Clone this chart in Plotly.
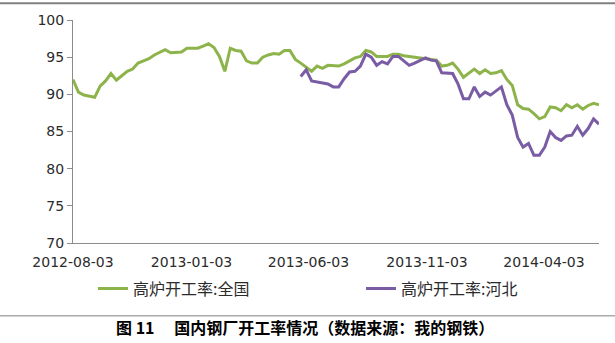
import pandas as pd
import plotly.graph_objects as go

# ---- data ----
start_national = "2012-08-03"
national = [92.0, 90.3, 89.9, 89.8, 89.6, 91.1, 91.8, 92.8, 91.9, 92.5,
            93.1, 93.4, 94.2, 94.5, 94.8, 95.3, 95.7, 96.0, 95.6, 95.7,
            95.7, 96.2, 96.2, 96.2, 96.5, 96.8, 96.3, 95.1, 93.1, 96.2,
            95.9, 95.8, 94.5, 94.2, 94.2, 95.0, 95.3, 95.5, 95.4, 95.9,
            95.9, 94.7, 94.2, 93.7, 93.1, 93.8, 93.5, 93.9, 93.8, 93.8,
            94.1, 94.5, 94.9, 95.1, 95.9, 95.7, 95.1, 95.1, 95.1, 95.4,
            95.4, 95.2, 95.1, 95.0, 94.9, 94.8, 94.7, 94.6, 93.8, 93.9,
            94.2, 93.4, 92.3, 92.8, 93.4, 92.8, 93.3, 92.8, 92.9, 93.2,
            92.0, 91.2, 88.6, 88.1, 88.0, 87.4, 86.7, 87.0, 88.3, 88.2,
            87.8, 88.6, 88.2, 88.6, 88.0, 88.5, 88.8, 88.6]
start_hebei = "2013-05-24"
hebei = [92.4, 93.3, 91.8, 91.7, 91.6, 91.4, 91.0, 91.0, 92.1, 93.0,
         93.1, 93.8, 95.4, 95.0, 93.9, 94.4, 94.1, 95.1, 95.1, 94.5,
         93.9, 94.2, 94.6, 94.9, 94.6, 94.5, 92.9, 92.9, 92.8, 91.4,
         89.4, 89.4, 91.0, 89.7, 90.3, 89.9, 90.5, 91.0, 88.6, 87.2,
         84.2, 82.9, 83.4, 81.8, 81.8, 82.9, 85.0, 84.2, 83.8, 84.4,
         84.5, 85.7, 84.5, 85.4, 86.7, 86.0]
series_names = ["高炉开工率:全国", "高炉开工率:河北"]
x_tick_labels = ["2012-08-03", "2013-01-03", "2013-06-03", "2013-11-03", "2014-04-03"]
y_ticks = [70, 75, 80, 85, 90, 95, 100]
caption = "图 11　 国内钢厂开工率情况（数据来源：我的钢铁）"

dates_nat = pd.date_range(start_national, periods=len(national), freq="7D")
dates_heb = pd.date_range(start_hebei, periods=len(hebei), freq="7D")

GREEN = "#8DB44B"
PURPLE = "#7A5CA5"
AXIS = "#8C8C8C"
TXT = "#2b2b2b"

fig = go.Figure()
fig.add_trace(go.Scatter(x=dates_nat, y=national, mode="lines", name=series_names[0],
                         line=dict(color=GREEN, width=3), legend="legend"))
fig.add_trace(go.Scatter(x=dates_heb, y=hebei, mode="lines", name=series_names[1],
                         line=dict(color=PURPLE, width=3), legend="legend2"))

L, R, T, B = 73, 16, 18, 100
W, H = 615, 343
pw, ph = W - L - R, H - T - B

def px_x(x):
    return (x - L) / pw

def px_y(y):
    return (H - B - y) / ph

legend_font = dict(family="Noto Sans CJK SC", size=16, color=TXT)

fig.update_layout(
    width=W, height=H,
    margin=dict(l=L, r=R, t=T, b=B),
    paper_bgcolor="white", plot_bgcolor="white",
    font=dict(family="DejaVu Sans", size=14, color=TXT),
    showlegend=True,
    legend=dict(orientation="h", x=px_x(93), xanchor="left", y=px_y(289), yanchor="middle",
                font=legend_font, bgcolor="rgba(0,0,0,0)"),
    legend2=dict(orientation="h", x=px_x(361), xanchor="left", y=px_y(289), yanchor="middle",
                 font=legend_font, bgcolor="rgba(0,0,0,0)"),
    xaxis=dict(type="date", range=[dates_nat[0], dates_nat[-1]],
               tickvals=pd.to_datetime(x_tick_labels), ticktext=x_tick_labels,
               showgrid=False, showline=True, linecolor=AXIS, linewidth=1,
               ticks="", ticklabelstandoff=6, zeroline=False,
               tickfont=dict(family="DejaVu Sans", size=14, color=TXT)),
    yaxis=dict(range=[70, 100], tickvals=y_ticks, showgrid=False, showline=True,
               linecolor=AXIS, linewidth=1, ticks="outside", ticklen=5, tickcolor=AXIS,
               zeroline=False, tickfont=dict(family="DejaVu Sans", size=14, color=TXT)),
    shapes=[
        dict(type="line", xref="paper", yref="paper", x0=px_x(0), x1=px_x(W),
             y0=px_y(1), y1=px_y(1), line=dict(color="#808080", width=2)),
        dict(type="line", xref="paper", yref="paper", x0=px_x(0), x1=px_x(W),
             y0=px_y(316.5), y1=px_y(316.5), line=dict(color="#808080", width=1)),
    ],
    annotations=[
        dict(text="<b>" + caption + "</b>", xref="paper", yref="paper",
             x=px_x(305), y=px_y(328), xanchor="center", yanchor="middle", showarrow=False,
             font=dict(family="Noto Sans CJK SC", size=16, color="#000000")),
    ],
)

fig.write_html("out.html")
